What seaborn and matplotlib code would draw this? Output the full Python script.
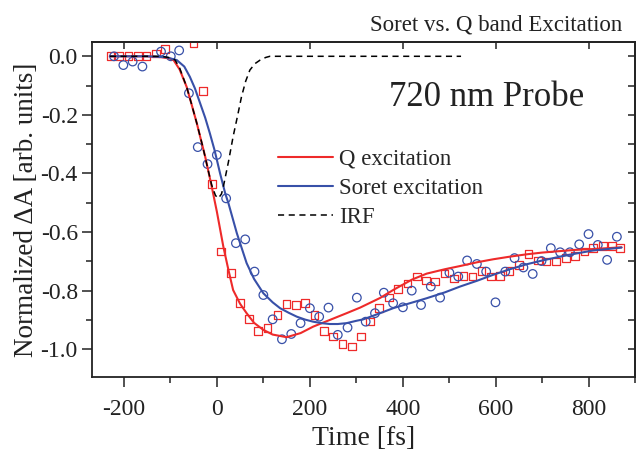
import numpy as np
import pandas as pd
import seaborn as sns
import matplotlib
matplotlib.use('Agg')
import matplotlib.pyplot as plt
from matplotlib.ticker import MultipleLocator

# --- data ---
q_t = [-229, -210, -190, -170, -151, -131, -111, -50, -30, -10, 9, 30, 50, 69, 89, 109,
       130, 150, 170, 190, 210, 230, 250, 270, 290, 310, 329, 349, 370, 390, 410, 430,
       450, 469, 489, 510, 530, 550, 569, 589, 609, 629, 650, 670, 690, 709, 729, 750,
       770, 790, 809, 830, 849, 867]
q_y = [0.0, 0.0, 0.0, 0.0, 0.0, 0.01, 0.025, 0.045, -0.118, -0.436, -0.667, -0.74, -0.843,
       -0.897, -0.937, -0.928, -0.883, -0.846, -0.849, -0.843, -0.883, -0.938, -0.957,
       -0.983, -0.991, -0.957, -0.906, -0.86, -0.824, -0.794, -0.775, -0.752, -0.766,
       -0.769, -0.741, -0.758, -0.75, -0.752, -0.732, -0.752, -0.75, -0.732, -0.712,
       -0.675, -0.697, -0.701, -0.701, -0.689, -0.682, -0.667, -0.655, -0.647, -0.647,
       -0.655]

s_t = [-221, -201, -181, -160, -120, -99, -81, -60, -41, -20, 0, 20, 41, 61, 81, 100, 120,
       140, 160, 180, 200, 220, 240, 260, 281, 301, 320, 340, 359, 379, 400, 419, 439, 460,
       480, 500, 519, 538, 559, 579, 599, 620, 640, 659, 679, 698, 718, 738, 759, 779, 799,
       819, 839, 860]
s_y = [0.0, -0.03, -0.018, -0.035, 0.016, 0.0, 0.02, -0.126, -0.31, -0.368, -0.337, -0.485,
       -0.638, -0.625, -0.735, -0.815, -0.898, -0.966, -0.948, -0.911, -0.86, -0.889,
       -0.858, -0.951, -0.926, -0.824, -0.906, -0.877, -0.807, -0.843, -0.857, -0.8,
       -0.849, -0.786, -0.824, -0.739, -0.752, -0.697, -0.709, -0.735, -0.84, -0.735,
       -0.689, -0.721, -0.743, -0.699, -0.655, -0.669, -0.669, -0.642, -0.607, -0.644,
       -0.695, -0.616]

qfit_t = [-230, -150, -120, -100, -93, -80, -65, -55, -43, -35, -25, -11, 0, 14, 25, 35, 50,
          64, 80, 100, 120, 150, 180, 207, 243, 279, 308, 351, 380, 420, 451, 490, 523, 560,
          594, 630, 666, 700, 738, 770, 809, 840, 870]
qfit_y = [0.0, 0.0, -0.003, -0.008, -0.013, -0.045, -0.104, -0.16, -0.229, -0.28, -0.343,
          -0.445, -0.53, -0.65, -0.73, -0.798, -0.845, -0.877, -0.91, -0.934, -0.95, -0.959,
          -0.945, -0.923, -0.9, -0.877, -0.858, -0.825, -0.797, -0.762, -0.742, -0.727,
          -0.716, -0.703, -0.693, -0.684, -0.676, -0.67, -0.665, -0.661, -0.658, -0.655,
          -0.652]

sfit_t = [-230, -150, -110, -86, -70, -58, -47, -36, -25, -15, -5, 7, 18, 25, 43, 64, 80, 100,
          120, 136, 155, 172, 190, 207, 225, 243, 260, 279, 300, 315, 351, 379, 415, 451,
          490, 523, 560, 594, 630, 666, 700, 738, 770, 809, 840, 870]
sfit_y = [0.0, 0.0, -0.003, -0.013, -0.035, -0.07, -0.11, -0.16, -0.21, -0.263, -0.32, -0.40,
          -0.468, -0.502, -0.604, -0.706, -0.76, -0.809, -0.84, -0.86, -0.876, -0.889,
          -0.899, -0.906, -0.911, -0.914, -0.914, -0.911, -0.903, -0.898, -0.877, -0.86,
          -0.843, -0.826, -0.806, -0.786, -0.766, -0.746, -0.727, -0.71, -0.697, -0.684,
          -0.674, -0.663, -0.658, -0.653]

irf_t = [-230, -120, -100, -90, -80, -65, -55, -43, -30, -20, -11, -3, 3, 10, 14, 25, 35, 45,
         53, 62, 71, 82, 93, 105, 114, 200, 525]
irf_y = [0.0, 0.0, -0.005, -0.012, -0.04, -0.104, -0.16, -0.229, -0.31, -0.38, -0.44, -0.475,
         -0.485, -0.47, -0.445, -0.36, -0.274, -0.2, -0.138, -0.085, -0.047, -0.025, -0.013,
         -0.004, 0.0, 0.0, 0.0]

RED = '#ee2a2a'
BLUE = '#3850a8'
INK = '#222222'

sns.set_theme(style='ticks')
plt.rcParams['font.family'] = ['Liberation Serif', 'DejaVu Serif']
plt.rcParams['axes.unicode_minus'] = False

fig = plt.figure(figsize=(6.36, 4.51), dpi=100)
ax = fig.add_axes([0.1442, 0.164, 0.855, 0.743])

sns.scatterplot(x=q_t, y=q_y, ax=ax, marker='s', s=30, color=RED, facecolors='none',
                edgecolor=RED, linewidth=0.9, zorder=2)
sns.scatterplot(x=s_t, y=s_y, ax=ax, marker='o', s=38, color=BLUE, facecolors='none',
                edgecolor=BLUE, linewidth=0.9, zorder=2)

sns.lineplot(x=qfit_t, y=qfit_y, ax=ax, color=RED, linewidth=1.5, sort=False,
             estimator=None, label='Q excitation', zorder=3)
sns.lineplot(x=sfit_t, y=sfit_y, ax=ax, color=BLUE, linewidth=1.5, sort=False,
             estimator=None, label='Soret excitation', zorder=3)
sns.lineplot(x=irf_t, y=irf_y, ax=ax, color='black', linewidth=1.1, sort=False,
             estimator=None, label='IRF', zorder=4, linestyle=(0, (4, 3)))

ax.set_xlim(-269, 900)
ax.set_ylim(-1.095, 0.049)
ax.xaxis.set_major_locator(MultipleLocator(200))
ax.xaxis.set_minor_locator(MultipleLocator(100))
ax.yaxis.set_major_locator(MultipleLocator(0.2))
ax.yaxis.set_minor_locator(MultipleLocator(0.1))
ax.yaxis.set_major_formatter(lambda v, p: f'{v:.1f}')
ax.tick_params(which='major', direction='out', length=7, width=1.1, labelsize=17,
               color=INK, labelcolor=INK, pad=3)
ax.tick_params(axis='x', which='major', pad=9)
ax.tick_params(which='minor', direction='out', length=4, width=1.1, color=INK)
for sp in ax.spines.values():
    sp.set_linewidth(1.3)
    sp.set_color(INK)

# mirrored inward ticks on top and right
top = ax.secondary_xaxis('top')
top.xaxis.set_major_locator(MultipleLocator(200))
top.tick_params(which='both', direction='in', length=5, width=1.1, labeltop=False,
                color=INK)
top.tick_params(which='minor', length=0)
right = ax.secondary_yaxis('right')
right.yaxis.set_major_locator(MultipleLocator(0.1))
right.tick_params(which='both', direction='in', length=5, width=1.1, labelright=False,
                  color=INK)
right.tick_params(which='minor', length=0)

ax.set_xlabel('Time [fs]', fontsize=20, color=INK, labelpad=4)
ax.set_ylabel('Normalized ΔA [arb. units]', fontsize=19.5, color=INK, labelpad=1)

ax.text(579, -0.139, '720 nm Probe', fontsize=25, ha='center', va='center', color=INK)
fig.text(622 / 636, 1 - 25 / 451, 'Soret vs. Q band Excitation', fontsize=16.5,
         ha='right', va='center', color=INK)

ax.legend(loc='upper left', bbox_to_anchor=(0.343, 0.682), frameon=False, fontsize=16.5,
          handlelength=2.4, handletextpad=0.25, labelspacing=0.36, borderaxespad=0,
          borderpad=0)

fig.savefig('out.png', dpi=100)
